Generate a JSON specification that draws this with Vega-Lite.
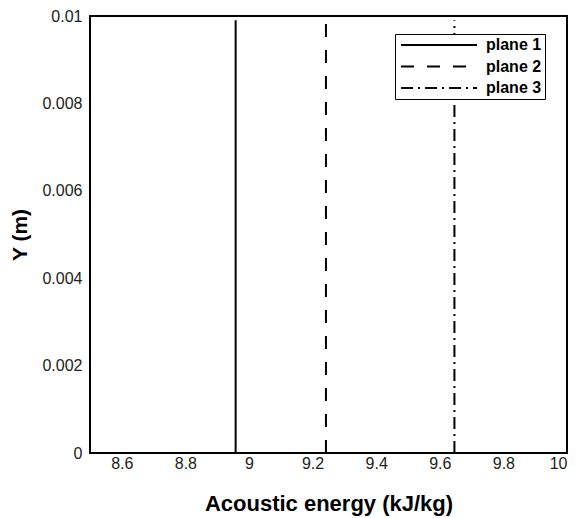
{
  "$schema": "https://vega.github.io/schema/vega-lite/v6.json",
  "width": 477,
  "height": 437,
  "autosize": {"type": "none"},
  "padding": {"left": 90, "top": 16, "right": 13, "bottom": 65},
  "background": "white",
  "config": {
    "font": "Liberation Sans",
    "view": {"stroke": "black", "strokeWidth": 2}
  },
  "data": {
    "values": [
      {"plane": "plane 1", "energy": 8.958, "y": 0},
      {"plane": "plane 1", "energy": 8.958, "y": 0.0099},
      {"plane": "plane 2", "energy": 9.242, "y": 0},
      {"plane": "plane 2", "energy": 9.242, "y": 0.0099},
      {"plane": "plane 3", "energy": 9.646, "y": 0},
      {"plane": "plane 3", "energy": 9.646, "y": 0.0099}
    ]
  },
  "mark": {"type": "line", "strokeWidth": 2, "color": "black", "clip": true},
  "encoding": {
    "x": {
      "field": "energy",
      "type": "quantitative",
      "scale": {"domain": [8.5, 10], "nice": false, "zero": false},
      "axis": {
        "values": [8.6, 8.8, 9, 9.2, 9.4, 9.6, 9.8, 10],
        "format": "~g",
        "grid": false,
        "ticks": false,
        "domain": false,
        "labelFontSize": 16,
        "labelColor": "#222",
        "labelPadding": 2,
        "title": "Acoustic energy (kJ/kg)",
        "titleFontSize": 22,
        "titleFontWeight": "bold",
        "titleColor": "black",
        "titlePadding": 22
      }
    },
    "y": {
      "field": "y",
      "type": "quantitative",
      "scale": {"domain": [0, 0.01], "nice": false},
      "axis": {
        "values": [0, 0.002, 0.004, 0.006, 0.008, 0.01],
        "format": "~g",
        "grid": false,
        "ticks": false,
        "domain": false,
        "labelFontSize": 16,
        "labelColor": "#222",
        "labelPadding": 8,
        "title": "Y (m)",
        "titleFontSize": 21,
        "titleFontWeight": "bold",
        "titleColor": "black",
        "titlePadding": 11
      }
    },
    "strokeDash": {
      "field": "plane",
      "type": "nominal",
      "scale": {
        "domain": ["plane 1", "plane 2", "plane 3"],
        "range": [[1, 0], [13, 13], [12, 5, 2, 5]]
      },
      "legend": {
        "orient": "none",
        "legendX": 305,
        "legendY": 18,
        "title": null,
        "strokeColor": "black",
        "fillColor": "white",
        "padding": 3,
        "rowPadding": 5.5,
        "symbolType": "M-1,0H14.2",
        "symbolSize": 100,
        "symbolStrokeWidth": 2,
        "symbolStrokeColor": "black",
        "labelFontSize": 16,
        "labelFontWeight": "bold",
        "labelColor": "black",
        "labelOffset": 72
      }
    }
  }
}
